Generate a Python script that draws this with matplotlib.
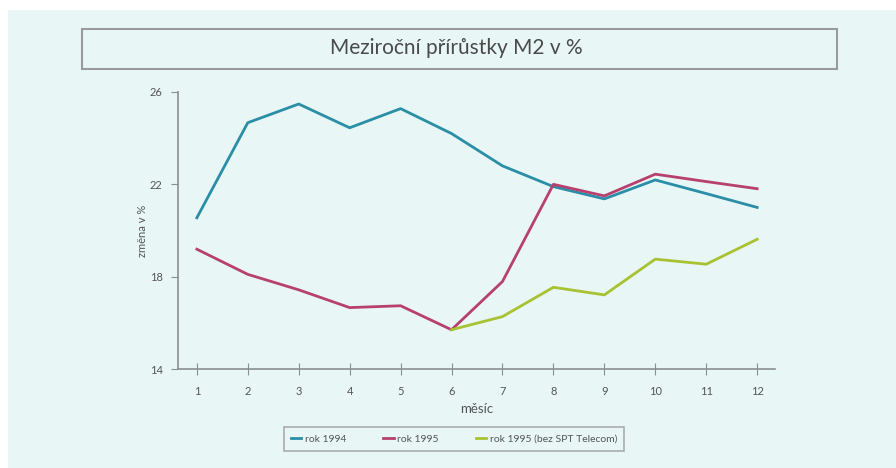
import matplotlib
matplotlib.use("Agg")
import matplotlib.pyplot as plt
from matplotlib.patches import Rectangle

months = [1, 2, 3, 4, 5, 6, 7, 8, 9, 10, 11, 12]
rok1994 = [20.55, 24.67, 25.48, 24.45, 25.28, 24.2, 22.8, 21.9, 21.37, 22.19, 21.6, 21.0]
rok1995 = [19.19, 18.1, 17.43, 16.66, 16.74, 15.7, 17.79, 22.0, 21.5, 22.44, 22.12, 21.81]
months_bez = [6, 7, 8, 9, 10, 11, 12]
rok1995_bez = [15.7, 16.27, 17.54, 17.21, 18.76, 18.54, 19.62]
yticks = [14, 18, 22, 26]

bg = "#e8f6f6"
txt = "#555555"
spine = "#8a8f90"
plt.rcParams['font.family'] = ['Lato', 'DejaVu Sans']

fig = plt.figure(figsize=(8.96, 4.68), dpi=100, facecolor="white")
fig.patches.append(Rectangle((8/896, 0), 1, 1 - 10/468, transform=fig.transFigure,
                             facecolor=bg, edgecolor="none", zorder=-10))

ax = fig.add_axes([178/896, 1 - 369/468, (775 - 178)/896, (369 - 92)/468])
ax.set_facecolor("none")
l1, = ax.plot(months, rok1994, color="#2a8ea6", lw=2.0, label="rok 1994")
l2, = ax.plot(months, rok1995, color="#b8406e", lw=2.0, label="rok 1995")
l3, = ax.plot(months_bez, rok1995_bez, color="#a8c232", lw=2.0, label="rok 1995 (bez SPT Telecom)")

ax.set_xlim(0.63, 12.35)
ax.set_ylim(14, 26)
ax.set_xticks(months)
ax.set_yticks(yticks)
for s in ["top", "right"]:
    ax.spines[s].set_visible(False)
for s in ["left", "bottom"]:
    ax.spines[s].set_color(spine)
    ax.spines[s].set_linewidth(1.2)
ax.tick_params(axis="x", direction="inout", length=9, color=spine, labelcolor=txt, labelsize=8, pad=8)
ax.tick_params(axis="y", direction="out", length=5, color=spine, labelcolor=txt, labelsize=8, pad=6)
ax.set_xlabel("měsíc", color=txt, fontsize=9.5, labelpad=4)
ax.set_ylabel("změna v %", color=txt, fontsize=8, labelpad=1)

# title box
fig.patches.append(Rectangle((82/896, 1 - 69/468), (837 - 82)/896, 40/468, transform=fig.transFigure,
                             facecolor="none", edgecolor="#9a9a9a", lw=1.5, zorder=5))
fig.text(456/896, 1 - 48/468, "Meziroční přírůstky M2 v %", ha="center", va="center",
         fontsize=15, color="#4a4a4a")

leg = fig.legend(handles=[l1, l2, l3], loc="center", bbox_to_anchor=(454/896, 1 - 439/468),
                 ncol=3, fontsize=7.5, frameon=True, fancybox=False, handlelength=1.0,
                 handletextpad=0.3, columnspacing=3.6, borderpad=0.7, borderaxespad=0)
leg.get_frame().set_edgecolor("#9a9a9a")
leg.get_frame().set_linewidth(1.2)
leg.get_frame().set_facecolor("none")
for t in leg.get_texts():
    t.set_color(txt)

fig.savefig("out.png", dpi=100, facecolor=fig.get_facecolor())
